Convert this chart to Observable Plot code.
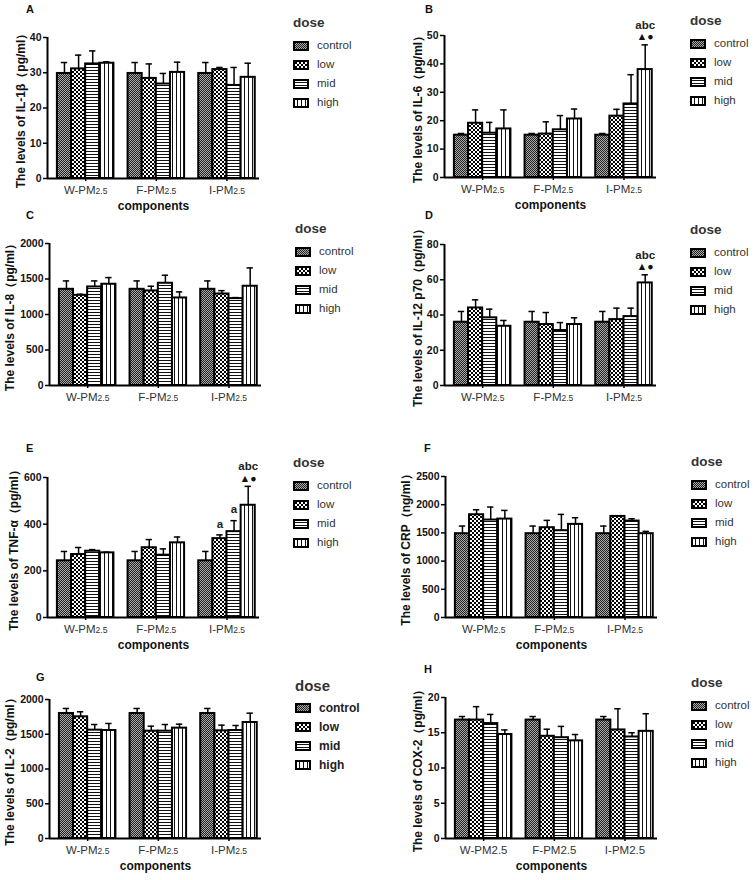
<!DOCTYPE html>
<html><head><meta charset="utf-8">
<script src="https://cdn.jsdelivr.net/npm/d3@7"></script>
<script src="https://cdn.jsdelivr.net/npm/@observablehq/plot@0.6"></script>
<style>
body{margin:0;background:#fff;}
#root{position:relative;width:755px;height:880px;overflow:hidden;font-family:"Liberation Sans",Arial,sans-serif;background:#fff;}
.pan{position:absolute;}
.pan svg{overflow:visible;}
.pan g[aria-label="y-axis tick label"]{font-weight:bold;font-size:10.5px;fill:#111;}
.pan g[aria-label="x-axis tick label"]{font-size:11.5px;fill:#333;}
.letter{position:absolute;font-weight:bold;font-size:11px;color:#111;line-height:1;}
.leg{position:absolute;color:#333;}
.leg .t{position:absolute;font-weight:bold;font-size:13.5px;line-height:1;white-space:nowrap;}
.leg .r{position:absolute;font-size:11.5px;line-height:1;white-space:nowrap;}
.leg.bold .t{font-size:15px;}
.leg.bold .r{font-weight:bold;font-size:12px;color:#222;}
</style></head><body>
<svg width="0" height="0" style="position:absolute">
<defs>
<pattern id="p-control" width="2" height="2" patternUnits="userSpaceOnUse"><rect width="2" height="2" fill="#aaa"/><rect width="1" height="1" fill="#222"/><rect x="1" y="1" width="1" height="1" fill="#222"/></pattern>
<pattern id="p-low" width="4" height="4" patternUnits="userSpaceOnUse"><rect width="4" height="4" fill="#fff"/><rect width="2" height="2" fill="#000"/><rect x="2" y="2" width="2" height="2" fill="#000"/></pattern>
<pattern id="p-mid" width="3" height="3" patternUnits="userSpaceOnUse"><rect width="3" height="3" fill="#fff"/><rect width="3" height="1" fill="#111"/></pattern>
<pattern id="p-high" width="4" height="4" patternUnits="userSpaceOnUse"><rect width="4" height="4" fill="#fff"/><rect width="1" height="4" fill="#111"/></pattern>
</defs></svg>
<div id="root"></div>
<script>
// ---------- data ----------
const components = ["W-PM2.5", "F-PM2.5", "I-PM2.5"];
const doses = ["control", "low", "mid", "high"];
const panelIds = ["A", "B", "C", "D", "E", "F", "G", "H"];
const yLabels = [
  "The levels of IL-1β（pg/ml）",
  "The levels of IL-6（pg/ml）",
  "The levels of IL-8（pg/ml）",
  "The levels of IL-12 p70（pg/ml）",
  "The levels of TNF-α（pg/ml）",
  "The levels of CRP（ng/ml）",
  "The levels of IL-2（pg/ml）",
  "The levels of COX-2（pg/ml）"
];
const yTicks = [
  [0, 10, 20, 30, 40],
  [0, 10, 20, 30, 40, 50],
  [0, 500, 1000, 1500, 2000],
  [0, 20, 40, 60, 80],
  [0, 200, 400, 600],
  [0, 500, 1000, 1500, 2000, 2500],
  [0, 500, 1000, 1500, 2000],
  [0, 5, 10, 15, 20]
];
const xTitle = "components";
const legendTitle = "dose";

// means [component][dose], sd [component][dose]
const il1bMean = [[29.8, 31.1, 32.5, 32.7], [29.8, 28.4, 26.8, 30.1], [29.8, 30.9, 26.4, 28.7]];
const il1bSd   = [[3.1, 3.9, 3.7, 0.4], [3.1, 4.1, 3.0, 2.9], [3.1, 0.6, 5.1, 4.0]];
const il6Mean  = [[14.9, 19.1, 15.6, 17.1], [14.9, 15.3, 16.8, 20.6], [14.9, 21.6, 25.9, 38.0]];
const il6Sd    = [[0.6, 4.7, 3.8, 6.7], [0.6, 4.3, 5.0, 3.5], [0.6, 2.4, 10.3, 8.7]];
const il8Mean  = [[1355, 1270, 1388, 1426], [1355, 1332, 1440, 1233], [1355, 1289, 1224, 1398]];
const il8Sd    = [[118, 15, 85, 94], [118, 66, 113, 85], [118, 47, 14, 258]];
const il12Mean = [[35.9, 44.0, 38.4, 33.6], [35.9, 34.6, 31.2, 34.6], [35.9, 37.4, 39.1, 58.2]];
const il12Sd   = [[6.1, 4.6, 4.9, 3.3], [6.1, 6.8, 4.5, 3.8], [6.1, 6.5, 4.8, 4.6]];
const tnfMean  = [[243, 270, 284, 277], [243, 299, 267, 320], [243, 338, 368, 481]];
const tnfSd    = [[40, 30, 7, 3], [40, 35, 27, 25], [40, 16, 47, 81]];
const crpMean  = [[1486, 1822, 1728, 1745], [1486, 1592, 1539, 1651], [1486, 1792, 1710, 1486]];
const crpSd    = [[135, 88, 230, 154], [135, 130, 289, 118], [135, 12, 41, 41]];
const il2Mean  = [[1799, 1751, 1559, 1554], [1799, 1544, 1544, 1588], [1799, 1549, 1554, 1669]];
const il2Sd    = [[72, 72, 81, 101], [72, 72, 96, 57], [72, 82, 72, 134]];
const coxMean  = [[16.8, 16.8, 16.3, 14.75], [16.8, 14.5, 14.3, 13.85], [16.8, 15.4, 14.4, 15.2]];
const coxSd    = [[0.5, 1.9, 1.3, 0.65], [0.5, 1.0, 1.6, 0.9], [0.5, 3.0, 0.6, 2.5]];

const means = [il1bMean, il6Mean, il8Mean, il12Mean, tnfMean, crpMean, il2Mean, coxMean];
const sds   = [il1bSd, il6Sd, il8Sd, il12Sd, tnfSd, crpSd, il2Sd, coxSd];

// significance marks: panel, component index, dose index
const annotations = [
  {panel: "B", component: 2, dose: 3, letters: "abc", symbols: "▲●"},
  {panel: "D", component: 2, dose: 3, letters: "abc", symbols: "▲●"},
  {panel: "E", component: 2, dose: 1, letters: "a", symbols: ""},
  {panel: "E", component: 2, dose: 2, letters: "a", symbols: ""},
  {panel: "E", component: 2, dose: 3, letters: "abc", symbols: "▲●"}
];

// ---------- layout ----------
const layout = {
  A: {axisX: 47,  top: 37,  bottom: 178, labelDx: -26, letter: [30, 10],  xTitle: true,  sub: true},
  B: {axisX: 444, top: 35,  bottom: 177, labelDx: -26, letter: [429, 10], xTitle: true,  sub: true},
  C: {axisX: 49,  top: 243, bottom: 385, labelDx: -39, letter: [30, 216], xTitle: false, sub: true},
  D: {axisX: 444, top: 244, bottom: 385, labelDx: -26, letter: [429, 216], xTitle: false, sub: true},
  E: {axisX: 47,  top: 477, bottom: 617, labelDx: -33, letter: [30, 449], xTitle: true,  sub: true},
  F: {axisX: 445, top: 476, bottom: 617, labelDx: -39, letter: [428, 449], xTitle: true, sub: true},
  G: {axisX: 49,  top: 699, bottom: 838, labelDx: -39, letter: [40, 678], xTitle: true,  sub: true, boldLegend: true},
  H: {axisX: 445, top: 697, bottom: 838, labelDx: -27, letter: [428, 670], xTitle: true, sub: false}
};
const mT = 30, mB = 42, mL = 47, mR = 8, frameW = 212;
const xDomain = [-0.54, 2.46];
const bw = 0.2, cap = 0.045;
const patternUrl = doses.map(d => `url(#p-${d})`);

const root = document.getElementById("root");

panelIds.forEach((id, p) => {
  const L = layout[id];
  const data = components.flatMap((c, gi) => doses.map((d, di) => ({
    component: c, gi, dose: d, di, mean: means[p][gi][di], sd: sds[p][gi][di]
  })));
  const xc = d => d.gi + (d.di - 1.5) * bw;
  const top = d => d.mean + d.sd;
  const ann = annotations.filter(a => a.panel === id)
    .map(a => ({...a, ...data.find(d => d.gi === a.component && d.di === a.dose)}));
  const ticks = yTicks[p];
  const marks = [
    Plot.rect(data, {x1: d => d.gi + (d.di - 2) * bw, x2: d => d.gi + (d.di - 1) * bw,
      y1: d => 0, y2: "mean", fill: "dose", stroke: "#000", strokeWidth: 2}),
    Plot.ruleX(data, {x: xc, y1: "mean", y2: top, stroke: "#000", strokeWidth: 1.5}),
    Plot.ruleY(data, {y: top, x1: d => xc(d) - cap, x2: d => xc(d) + cap, stroke: "#000", strokeWidth: 1.5}),
    Plot.ruleY([0], {stroke: "#000", strokeWidth: 2}),
    Plot.ruleX([xDomain[0]], {stroke: "#000", strokeWidth: 2}),
    Plot.axisY({ticks, tickFormat: d => String(d), tickSize: 4, tickPadding: 2, label: null, strokeWidth: 1.5}),
    Plot.axisX({ticks: [0, 1, 2], tickFormat: i => components[i], tickSize: 3, tickPadding: 4, label: null, strokeWidth: 1.5}),
    Plot.text([yLabels[p]], {frameAnchor: "left", textAnchor: "middle", lineAnchor: "middle", rotate: -90, dx: L.labelDx, fontWeight: "bold", fontSize: 12, fill: "#111"}),
    Plot.text(ann.filter(a => a.symbols), {x: xc, y: top, text: "symbols", dy: -8, fontSize: 10.5, fill: "#111"}),
    Plot.text(ann.filter(a => a.symbols), {x: xc, y: top, text: "letters", dy: -20, fontSize: 11.5, fontWeight: "bold", fill: "#222"}),
    Plot.text(ann.filter(a => !a.symbols), {x: xc, y: top, text: "letters", dy: -11, fontSize: 11.5, fontWeight: "bold", fill: "#222"})
  ];
  if (L.xTitle) marks.push(Plot.text([xTitle], {frameAnchor: "bottom", lineAnchor: "middle", dy: 28, fontWeight: "bold", fontSize: 12, fill: "#111"}));
  const chart = Plot.plot({
    width: mL + frameW + mR,
    height: mT + (L.bottom - L.top) + mB,
    marginTop: mT, marginBottom: mB, marginLeft: mL, marginRight: mR,
    x: {domain: xDomain, axis: null},
    y: {domain: [0, ticks[ticks.length - 1]], axis: null},
    color: {domain: doses, range: patternUrl},
    style: {fontFamily: "'Liberation Sans', Arial, sans-serif", fontSize: "10px", color: "#000", background: "transparent", overflow: "visible"},
    marks
  });
  if (L.sub) {
    chart.querySelectorAll('g[aria-label="x-axis tick label"] text').forEach(t => {
      const m = t.textContent.match(/^(.*?)(2\.5)$/);
      if (m) {
        t.textContent = m[1];
        const ts = document.createElementNS("http://www.w3.org/2000/svg", "tspan");
        ts.setAttribute("font-size", "8.5");
        ts.textContent = m[2];
        t.appendChild(ts);
      }
    });
  }
  const wrap = document.createElement("div");
  wrap.className = "pan";
  wrap.style.left = (L.axisX - mL) + "px";
  wrap.style.top = (L.top - mT) + "px";
  wrap.appendChild(chart);
  root.appendChild(wrap);

  // panel letter
  const lt = document.createElement("div");
  lt.className = "letter";
  lt.textContent = id;
  lt.style.left = (L.letter[0] - 4) + "px";
  lt.style.top = (L.letter[1] - 6) + "px";
  root.appendChild(lt);

  // legend
  const lg = document.createElement("div");
  lg.className = "leg" + (L.boldLegend ? " bold" : "");
  lg.style.left = (L.axisX + 246) + "px";
  lg.style.top = (L.top - 14) + "px";
  const t = document.createElement("div");
  t.className = "t"; t.textContent = legendTitle;
  t.style.left = "0px"; t.style.top = "-7px";
  lg.appendChild(t);
  doses.forEach((d, i) => {
    const y = 23 + i * 19;
    const sw = document.createElementNS("http://www.w3.org/2000/svg", "svg");
    sw.setAttribute("width", 17); sw.setAttribute("height", 10);
    sw.style.position = "absolute"; sw.style.left = "0px"; sw.style.top = (y - 5) + "px";
    const r = document.createElementNS("http://www.w3.org/2000/svg", "rect");
    r.setAttribute("x", 1); r.setAttribute("y", 1); r.setAttribute("width", 14); r.setAttribute("height", 8);
    r.setAttribute("fill", patternUrl[i]); r.setAttribute("stroke", "#000"); r.setAttribute("stroke-width", 2);
    sw.appendChild(r);
    lg.appendChild(sw);
    const lab = document.createElement("div");
    lab.className = "r"; lab.textContent = d;
    lab.style.left = "24px"; lab.style.top = (y - 6) + "px";
    lg.appendChild(lab);
  });
  root.appendChild(lg);
});
</script>
</body></html>
